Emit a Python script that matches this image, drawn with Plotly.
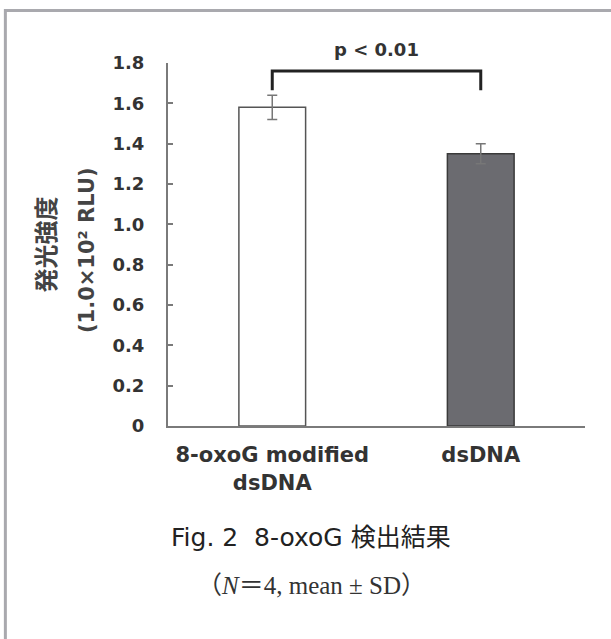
import plotly.graph_objects as go

# ---- data ----
categories = ["8-oxoG modified<br>dsDNA", "dsDNA"]
means = [1.58, 1.35]
sds = [0.06, 0.05]
bar_fills = ["#ffffff", "#6b6b70"]
bar_edges = ["#555555", "#3a3a3a"]
ytick_vals = [0, 0.2, 0.4, 0.6, 0.8, 1.0, 1.2, 1.4, 1.6, 1.8]
ytick_text = ["0", "0.2", "0.4", "0.6", "0.8", "1.0", "1.2", "1.4", "1.6", "1.8"]
p_label = "p < 0.01"
bracket_y = 1.76
bracket_drop = 0.095
ytitle_1 = "発光強度"
ytitle_2 = "(1.0×10² RLU)"
caption_latin = "Fig. 2  8-oxoG "
caption_cjk = "検出結果"
subcaption = "（<i>N</i>＝4, mean ± SD）"

xs = list(range(len(categories)))
Y_MAX = 1.8

BOLD = "DejaVu Sans"

fig = go.Figure()
fig.add_trace(go.Bar(
    x=xs, y=means, width=0.32,
    marker=dict(color=bar_fills, line=dict(color=bar_edges, width=1.5)),
    error_y=dict(type="data", array=sds, visible=True, color="#777777",
                 thickness=1.5, width=5),
    showlegend=False, hoverinfo="skip",
))

# significance bracket
fig.add_shape(type="path", xref="x", yref="y",
              path=f"M {xs[0]},{bracket_y - bracket_drop} L {xs[0]},{bracket_y} "
                   f"L {xs[1]},{bracket_y} L {xs[1]},{bracket_y - bracket_drop}",
              line=dict(color="#222222", width=3))
fig.add_annotation(x=(xs[0] + xs[1]) / 2, y=1.865 / Y_MAX, xref="x", yref="paper",
                   text=f"<b>{p_label}</b>", showarrow=False,
                   xanchor="center", yanchor="middle",
                   font=dict(family=BOLD, size=18, color="#333333"))

# outer frame (only left/top visible)
fig.add_shape(type="rect", xref="paper", yref="paper",
              x0=-0.39, x1=2.0, y0=-2.0, y1=1.1446,
              line=dict(color="#a9a9ae", width=3), layer="below")

# y-axis titles
fig.add_annotation(x=-0.295, y=0.50, xref="paper", yref="paper",
                   text=f"<b>{ytitle_1}</b>", textangle=-90, showarrow=False,
                   xanchor="center", yanchor="middle",
                   font=dict(family="Noto Sans CJK JP", size=24, color="#444444"))
fig.add_annotation(x=-0.194, y=0.485, xref="paper", yref="paper",
                   text=f"<b>{ytitle_2}</b>", textangle=-90, showarrow=False,
                   xanchor="center", yanchor="middle",
                   font=dict(family=BOLD, size=21, color="#444444"))

# captions
fig.add_annotation(x=0.343, y=-0.30, xref="paper", yref="paper",
                   text=(f"<span style='font-family:DejaVu Sans'>{caption_latin}</span>"
                         f"<span style='font-family:Noto Sans CJK JP;font-size:25px'>{caption_cjk}</span>"),
                   showarrow=False, xanchor="center", yanchor="middle",
                   font=dict(family="DejaVu Sans", size=25, color="#222222"))
fig.add_annotation(x=0.343, y=-0.44, xref="paper", yref="paper",
                   text=subcaption, showarrow=False, xanchor="center", yanchor="middle",
                   font=dict(family="Liberation Serif, Noto Sans CJK JP", size=25,
                             color="#333333"))

fig.update_xaxes(range=[-0.5, 1.5], tickvals=xs,
                 ticktext=[f"<b>{c}</b>" for c in categories],
                 showline=True, linecolor="#7a7a7a", linewidth=2,
                 ticks="", showgrid=False, zeroline=False,
                 tickfont=dict(family=BOLD, size=21, color="#333333"),
                 ticklabelstandoff=9)
fig.update_yaxes(range=[0, Y_MAX], tickvals=ytick_vals,
                 ticktext=[f"<b>{t}</b>" for t in ytick_text],
                 showline=True, linecolor="#7a7a7a", linewidth=2,
                 ticks="inside", ticklen=5, tickcolor="#7a7a7a", tickwidth=1.5,
                 showgrid=False, zeroline=False,
                 tickfont=dict(family=BOLD, size=18, color="#333333"),
                 ticklabelstandoff=18)

fig.update_layout(width=611, height=639,
                  margin=dict(l=168, r=26, t=63, b=213),
                  paper_bgcolor="white", plot_bgcolor="white",
                  bargap=0.68)

fig.write_html("out.html", config={"displayModeBar": False},
               post_script="document.body.style.margin='0px';document.body.style.overflow='hidden';")
